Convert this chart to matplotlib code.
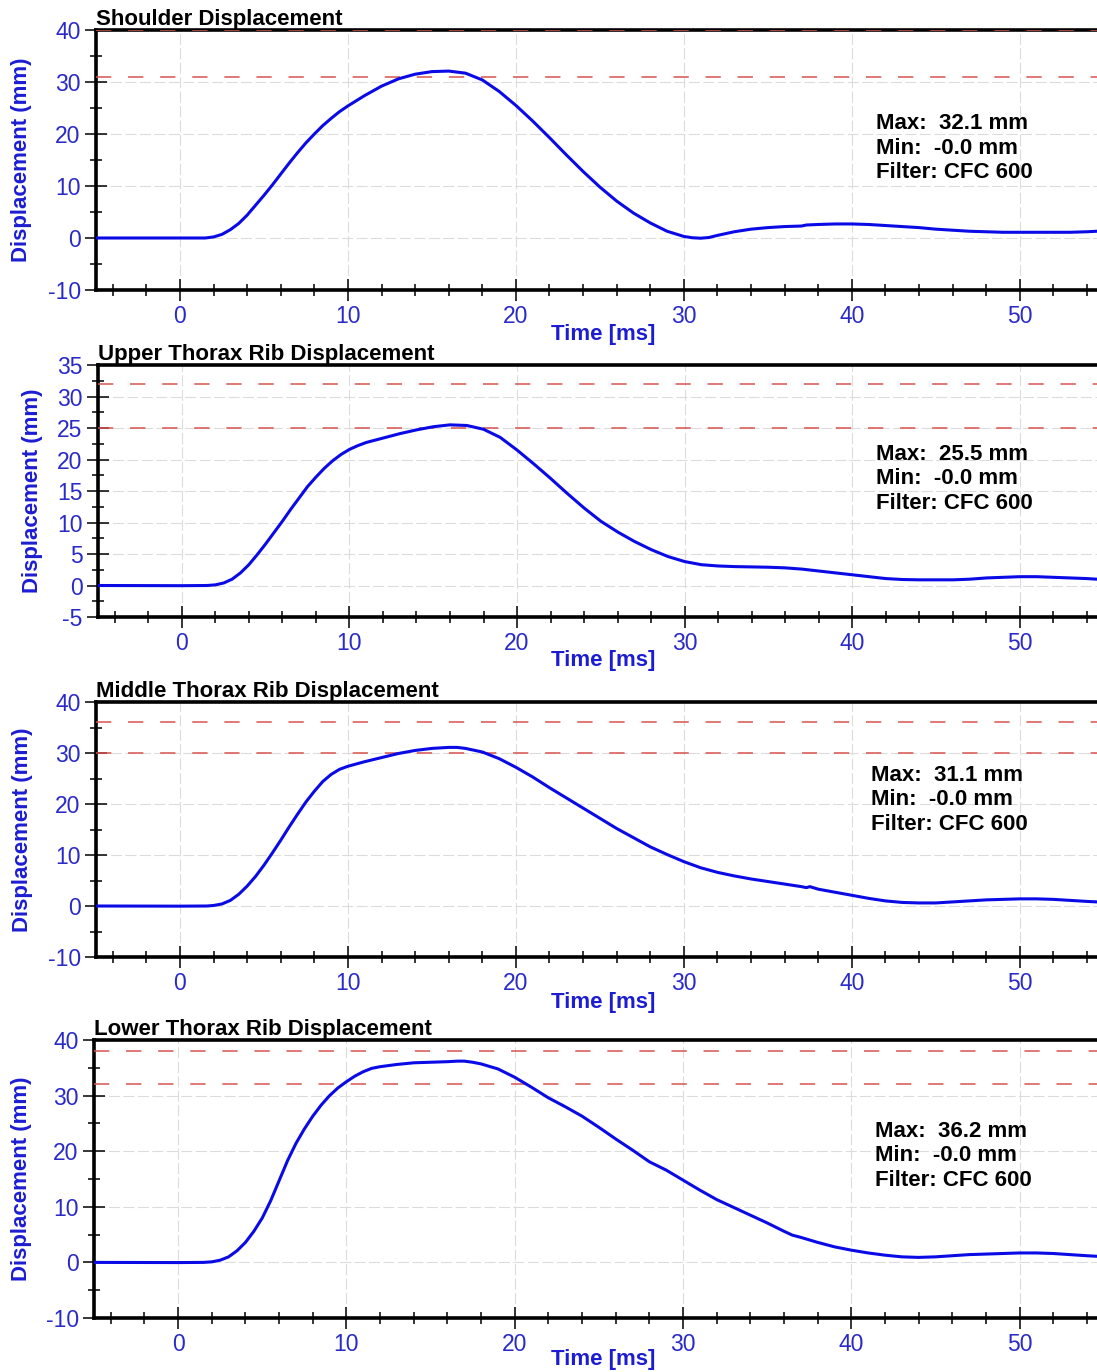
import matplotlib
matplotlib.use("Agg")
import matplotlib.pyplot as plt
from matplotlib.ticker import MultipleLocator

plt.rcParams["font.family"] = ["Liberation Sans", "DejaVu Sans"]
plt.rcParams["axes.unicode_minus"] = False

# ---- measured channels (time in ms, displacement in mm) ----
t_shoulder = [-5, 0, 1.5, 2, 2.5, 3, 3.5, 4, 4.5, 5, 5.5, 6, 6.5, 7, 7.5, 8, 8.5, 9, 9.5, 10,
              11, 12, 13, 14, 15, 16, 17, 18, 19, 20, 21, 22, 23, 24, 25, 26, 27, 28, 29,
              30, 30.5, 31, 31.5, 32, 33, 34, 35, 36, 37, 37.3, 38, 39, 40, 41, 42, 43,
              44, 45, 46, 47, 48, 49, 50, 51, 52, 53, 54, 54.6]
d_shoulder = [0, 0, 0, 0.2, 0.7, 1.6, 2.8, 4.4, 6.3, 8.2, 10.2, 12.3, 14.4, 16.4, 18.3, 20.0,
              21.6, 23.0, 24.3, 25.4, 27.4, 29.2, 30.6, 31.5, 32.0, 32.1, 31.7, 30.4, 28.2,
              25.5, 22.5, 19.3, 16.0, 12.8, 9.8, 7.1, 4.8, 2.9, 1.3, 0.3, 0.05, -0.04, 0.1,
              0.5, 1.2, 1.7, 2.0, 2.2, 2.3, 2.5, 2.6, 2.7, 2.7, 2.6, 2.4, 2.2, 2.0, 1.7,
              1.5, 1.3, 1.2, 1.1, 1.1, 1.1, 1.1, 1.1, 1.2, 1.3]

t_upper = [-5, 0, 1.5, 2, 2.5, 3, 3.5, 4, 4.5, 5, 5.5, 6, 6.5, 7, 7.5, 8, 8.5, 9, 9.5, 10,
           10.5, 11, 12, 13, 14, 15, 16, 17, 18, 19, 20, 21, 22, 23, 24, 25, 26, 27, 28,
           29, 30, 31, 32, 33, 34, 35, 36, 37, 38, 39, 40, 41, 42, 43, 44, 45, 46, 47,
           48, 49, 50, 51, 52, 53, 54, 54.6]
d_upper = [0, -0.03, 0, 0.1, 0.4, 1.0, 2.0, 3.3, 4.9, 6.6, 8.4, 10.2, 12.1, 13.9, 15.7, 17.2,
           18.6, 19.8, 20.8, 21.6, 22.2, 22.7, 23.4, 24.1, 24.7, 25.2, 25.5, 25.4, 24.8,
           23.5, 21.5, 19.3, 17.0, 14.6, 12.3, 10.2, 8.5, 7.0, 5.7, 4.6, 3.8, 3.3, 3.1,
           3.0, 2.95, 2.9, 2.8, 2.6, 2.3, 2.0, 1.7, 1.4, 1.1, 0.95, 0.9, 0.9, 0.9, 1.0,
           1.2, 1.3, 1.4, 1.4, 1.3, 1.2, 1.1, 1.0]

t_middle = [-5, 0, 1.6, 2, 2.5, 3, 3.5, 4, 4.5, 5, 5.5, 6, 6.5, 7, 7.5, 8, 8.5, 9, 9.5, 10,
            11, 12, 13, 14, 15, 16, 16.5, 17, 18, 19, 20, 21, 22, 23, 24, 25, 26, 27, 28,
            29, 30, 31, 32, 33, 34, 35, 36, 37, 37.3, 37.5, 38, 39, 40, 41, 42, 43, 44,
            45, 46, 47, 48, 49, 50, 51, 52, 53, 54, 54.6]
d_middle = [0, -0.03, 0, 0.1, 0.4, 1.1, 2.3, 3.9, 5.8, 8.0, 10.4, 12.9, 15.5, 18.0, 20.4,
            22.5, 24.4, 25.8, 26.8, 27.4, 28.3, 29.1, 29.9, 30.5, 30.9, 31.1, 31.1, 30.9,
            30.2, 28.9, 27.2, 25.3, 23.2, 21.2, 19.2, 17.2, 15.2, 13.4, 11.6, 10.1, 8.7,
            7.5, 6.6, 5.9, 5.3, 4.8, 4.3, 3.8, 3.6, 3.8, 3.3, 2.7, 2.1, 1.5, 1.0, 0.7,
            0.6, 0.6, 0.8, 1.0, 1.2, 1.3, 1.4, 1.4, 1.3, 1.1, 0.9, 0.8]

t_lower = [-5, 0, 1.5, 2, 2.5, 3, 3.5, 4, 4.5, 5, 5.5, 6, 6.5, 7, 7.5, 8, 8.5, 9, 9.5, 10,
           10.5, 11, 11.5, 12, 13, 14, 15, 16, 16.6, 17, 17.5, 18, 19, 20, 21, 22, 23, 24,
           25, 26, 27, 28, 29, 30, 31, 32, 33, 34, 35, 36, 36.5, 37, 38, 39, 40, 41, 42,
           43, 44, 45, 46, 47, 48, 49, 50, 51, 52, 53, 54, 54.6]
d_lower = [0, -0.03, 0, 0.1, 0.4, 1.0, 2.1, 3.6, 5.6, 8.0, 11.1, 14.7, 18.3, 21.4, 24.0, 26.3,
           28.3, 30.0, 31.4, 32.5, 33.5, 34.3, 34.9, 35.2, 35.6, 35.9, 36.0, 36.1, 36.2,
           36.2, 36.0, 35.7, 34.8, 33.3, 31.5, 29.6, 28.0, 26.3, 24.3, 22.2, 20.2, 18.1,
           16.6, 14.8, 13.0, 11.3, 9.9, 8.5, 7.1, 5.6, 4.9, 4.5, 3.6, 2.8, 2.2, 1.7, 1.3,
           1.0, 0.9, 1.0, 1.2, 1.4, 1.5, 1.6, 1.7, 1.7, 1.6, 1.4, 1.2, 1.1]

titles = ["Shoulder Displacement", "Upper Thorax Rib Displacement",
          "Middle Thorax Rib Displacement", "Lower Thorax Rib Displacement"]
limits = [[40, 31], [32, 25], [36, 30], [38, 32]]
y_ranges = [(-10, 40), (-5, 35), (-10, 40), (-10, 40)]
y_major = [10, 5, 10, 10]
y_minor = [5, 2.5, 5, 5]
filter_class = "CFC 600"

series = [(t_shoulder, d_shoulder), (t_upper, d_upper),
          (t_middle, d_middle), (t_lower, d_lower)]

# axes boxes in figure pixels: left, top, bottom
W, H = 1097, 1372
boxes = [(96, 30, 290), (98, 365, 617), (96, 702, 957), (94, 1040, 1318)]
stats_pos = [(0.779, 0.546), (0.779, 0.548), (0.774, 0.616), (0.779, 0.583)]
xlabel_y = [-0.131, -0.131, -0.137, -0.112]
ylabel_x = [(32 - 96), (43 - 98), (33 - 96), (32 - 94)]

TICK_BLUE = "#2a2ac8"
LINE_BLUE = "#0a0ae6"
LABEL_BLUE = "#1c1cd2"
REF_RED = "#d9534f"

fig = plt.figure(figsize=(W / 100, H / 100), dpi=100)

for i, ((t, d), title) in enumerate(zip(series, titles)):
    left, top, bottom = boxes[i]
    ax = fig.add_axes([left / W, 1 - bottom / H, (W - left) / W, (bottom - top) / H])
    ax.set_xlim(-5, 54.6)
    ax.set_ylim(*y_ranges[i])

    ax.xaxis.set_major_locator(MultipleLocator(10))
    ax.xaxis.set_minor_locator(MultipleLocator(2))
    ax.yaxis.set_major_locator(MultipleLocator(y_major[i]))
    ax.yaxis.set_minor_locator(MultipleLocator(y_minor[i]))

    ax.grid(True, which="major", color="#dcdcdc", linestyle=(0, (10, 3)), linewidth=0.8)
    ax.set_axisbelow(True)

    for lvl in limits[i]:
        ax.axhline(lvl, color=REF_RED, linestyle=(0, (10, 11)), linewidth=1.1, zorder=3)

    ax.plot(t, d, color=LINE_BLUE, linewidth=2.2, zorder=4, solid_joinstyle="round")

    for side in ("left", "bottom", "top"):
        ax.spines[side].set_linewidth(2.6)
        ax.spines[side].set_color("black")
    ax.spines["right"].set_visible(False)
    ax.spines["top"].set_zorder(2)

    ax.tick_params(which="major", direction="inout", length=16, width=1.1, color="black",
                   labelsize=16.5, labelcolor=TICK_BLUE, pad=3)
    ax.tick_params(which="minor", direction="inout", length=8, width=1.1, color="black")
    ax.tick_params(right=False, top=False, which="both")

    ax.set_title(title, loc="left", fontsize=16, fontweight="bold", color="black", pad=3)

    ax.set_xlabel("Time [ms]", fontsize=16, fontweight="bold", color=LABEL_BLUE)
    ax.xaxis.set_label_coords((603 - left) / (W - left), xlabel_y[i])
    ax.set_ylabel("Displacement (mm)", fontsize=16, fontweight="bold", color=LABEL_BLUE)
    ax.yaxis.set_label_coords(ylabel_x[i] / (W - left), 0.5)

    stats = (f"Max:  {max(d):.1f} mm\n"
             f"Min:  {min(d):.1f} mm\n"
             f"Filter: {filter_class}")
    ax.text(stats_pos[i][0], stats_pos[i][1], stats, transform=ax.transAxes,
            fontsize=16, fontweight="bold", color="black", ha="left", va="center",
            linespacing=1.22, zorder=5)

fig.savefig("out.png", dpi=100)
